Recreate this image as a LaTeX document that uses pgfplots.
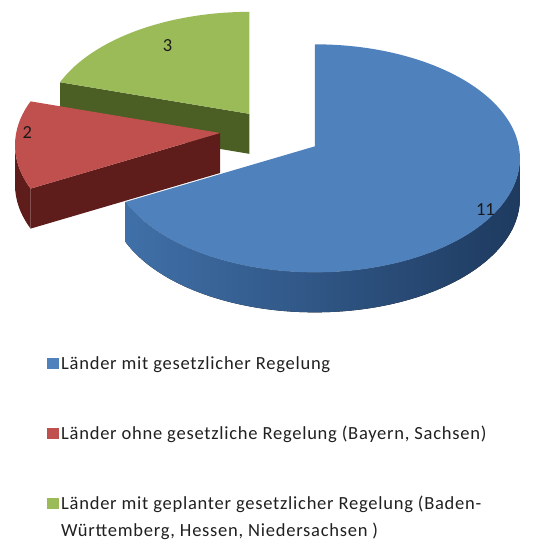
\documentclass[border=0pt]{standalone}
\usepackage{pgfplots}
\pgfplotsset{compat=1.18}
\usepackage{pgfplotstable}
\usepackage{fontspec}
\setmainfont{Carlito}
\newfontfamily\legfont[LetterSpace=4]{Carlito}

\definecolor{bluetop}{HTML}{4F81BD}
\definecolor{bluewallL}{HTML}{4070A8}
\definecolor{bluewallM}{HTML}{2F5587}
\definecolor{bluewallR}{HTML}{1E3A5F}
\definecolor{redtop}{HTML}{C0504D}
\definecolor{redside}{HTML}{5E1C1B}
\definecolor{greentop}{HTML}{9BBB59}
\definecolor{greenside}{HTML}{4B5E24}
\definecolor{labcol}{HTML}{1A1A1A}
\definecolor{legtext}{HTML}{202020}

% value, explosion distance (px) and label position (fraction of radius)
\pgfplotstableread{
value explode labelpos
11 48 1.00
2  55 0.94
3  46 0.72
}\piedata

% geometry of the 3D pie (pixel units, y upwards)
\def\pieCx{275}\def\pieCy{407}\def\pieK{0.5}
\def\pieRx{205}\def\pieRy{114}\def\pieD{12}\def\pieH{40}
\newcommand\labfont{\fontsize{18.5}{18.5}\selectfont}

\newcommand\calcslice[2]{%
  \pgfplotstablegetelem{#1}{value}\of\piedata\let\sVal\pgfplotsretval
  \pgfplotstablegetelem{#1}{explode}\of\piedata\let\sEx\pgfplotsretval
  \pgfplotstablegetelem{#1}{labelpos}\of\piedata\let\sLf\pgfplotsretval
  \pgfmathsetmacro\sSw{360*\sVal/\pieTot}%
  \pgfmathsetmacro\sA{mod(\pieCur-\sSw+720,360)}%
  \pgfmathsetmacro\sB{\sA+\sSw}%
  \pgfmathsetmacro\sM{(\sA+\sB)/2}%
  \pgfmathsetmacro\sPx{\pieCx+\sEx*cos(\sM)}%
  \pgfmathsetmacro\sPy{\pieCy+\sEx*\pieK*sin(\sM)}%
  \pgfmathsetmacro\pieCur{\pieCur-\sSw}%
  \expandafter\xdef\csname pieV#2\endcsname{\sVal}%
  \expandafter\xdef\csname pieA#2\endcsname{\sA}%
  \expandafter\xdef\csname pieB#2\endcsname{\sB}%
  \expandafter\xdef\csname pieM#2\endcsname{\sM}%
  \expandafter\xdef\csname pieX#2\endcsname{\sPx}%
  \expandafter\xdef\csname pieY#2\endcsname{\sPy}%
  \expandafter\xdef\csname pieL#2\endcsname{\sLf}%
}

\newcommand\drawslice[4]{%
  \edef\sA{\csname pieA#1\endcsname}%
  \edef\sB{\csname pieB#1\endcsname}%
  \edef\sM{\csname pieM#1\endcsname}%
  \edef\sPx{\csname pieX#1\endcsname}%
  \edef\sPy{\csname pieY#1\endcsname}%
  \edef\sLf{\csname pieL#1\endcsname}%
  \pgfmathsetmacro\sOy{\sPy-\pieD}%
  \pgfmathsetmacro\sPyL{\sPy-\pieH}%
  \pgfmathsetmacro\xA{\sPx+\pieRx*cos(\sA)}%
  \pgfmathsetmacro\yA{\sOy+\pieRy*sin(\sA)}%
  \pgfmathsetmacro\xB{\sPx+\pieRx*cos(\sB)}%
  \pgfmathsetmacro\yB{\sOy+\pieRy*sin(\sB)}%
  \pgfmathsetmacro\wS{max(\sA,180)}%
  \pgfmathsetmacro\wE{min(\sB,360)}%
  \pgfmathtruncatemacro\wVis{\wS<\wE}%
  \ifnum\wVis=1
    \pgfmathsetmacro\xS{\sPx+\pieRx*cos(\wS)}%
    \pgfmathsetmacro\yS{\sOy+\pieRy*sin(\wS)}%
    \edef\tmp{\noexpand\fill[#3] (axis cs:\xS,\yS) arc[start angle=\wS,end angle=\wE,x radius=\pieRx bp,y radius=\pieRy bp] -- ++(0bp,-\pieH bp) arc[start angle=\wE,end angle=\wS,x radius=\pieRx bp,y radius=\pieRy bp] -- cycle;}\tmp
  \fi
  \pgfmathtruncatemacro\fB{cos(\sB)<-0.01}%
  \ifnum\fB=1
    \edef\tmp{\noexpand\fill[#4] (axis cs:\sPx,\sPy) -- (axis cs:\xB,\yB) -- ++(0bp,-\pieH bp) -- (axis cs:\sPx,\sPyL) -- cycle;}\tmp
  \fi
  \pgfmathtruncatemacro\fA{cos(\sA)>0.01}%
  \ifnum\fA=1
    \edef\tmp{\noexpand\fill[#4] (axis cs:\sPx,\sPy) -- (axis cs:\xA,\yA) -- ++(0bp,-\pieH bp) -- (axis cs:\sPx,\sPyL) -- cycle;}\tmp
  \fi
  \edef\tmp{\noexpand\fill[#2] (axis cs:\sPx,\sPy) -- (axis cs:\xA,\yA) arc[start angle=\sA,end angle=\sB,x radius=\pieRx bp,y radius=\pieRy bp] -- cycle;}\tmp
  \pgfmathsetmacro\lx{\sPx+\sLf*\pieRx*cos(\sM)}%
  \pgfmathsetmacro\ly{\sPy+\sLf*\pieRy*sin(\sM)}%
  \edef\tmp{\noexpand\node[font=\noexpand\labfont,text=labcol] at (axis cs:\lx,\ly) {\csname pieV#1\endcsname};}\tmp
}

\begin{document}
\begin{tikzpicture}
\begin{axis}[
  scale only axis, width=554bp, height=540bp,
  xmin=0, xmax=554, ymin=0, ymax=540,
  axis line style={draw=none}, ticks=none, clip=false,
  legend image code/.code={\fill[#1,draw=none] (0bp,0bp) rectangle (12bp,11bp);},
  legend cell align=left,
  legend style={at={(axis cs:47,186)}, anchor=north west, draw=none, fill=none,
    inner sep=0pt, row sep=51bp, text=legtext,
    font=\legfont\fontsize{18.6}{27}\selectfont,
    cells={anchor=base west},
    /tikz/every even column/.append style={column sep=4bp}},
]
\pgfplotstablegetelem{0}{value}\of\piedata\let\vA\pgfplotsretval
\pgfplotstablegetelem{1}{value}\of\piedata\let\vB\pgfplotsretval
\pgfplotstablegetelem{2}{value}\of\piedata\let\vC\pgfplotsretval
\pgfmathsetmacro\pieTot{\vA+\vB+\vC}
\def\pieCur{90}
\calcslice{0}{A}
\calcslice{1}{B}
\calcslice{2}{C}
\drawslice{C}{greentop}{greenside}{greenside}
\drawslice{B}{redtop}{redside}{redside}
\drawslice{A}{bluetop}{left color=bluewallL,middle color=bluewallM,right color=bluewallR}{bluewallM}

\addlegendimage{fill=bluetop}
\addlegendentry{Länder mit gesetzlicher Regelung}
\addlegendimage{fill=redtop}
\addlegendentry{Länder ohne gesetzliche Regelung (Bayern, Sachsen)}
\addlegendimage{fill=greentop}
\addlegendentry{\vtop{\hbox{Länder mit geplanter gesetzlicher Regelung (Baden-}\hbox{Württemberg, Hessen, Niedersachsen )}}}
\end{axis}
\end{tikzpicture}
\end{document}
